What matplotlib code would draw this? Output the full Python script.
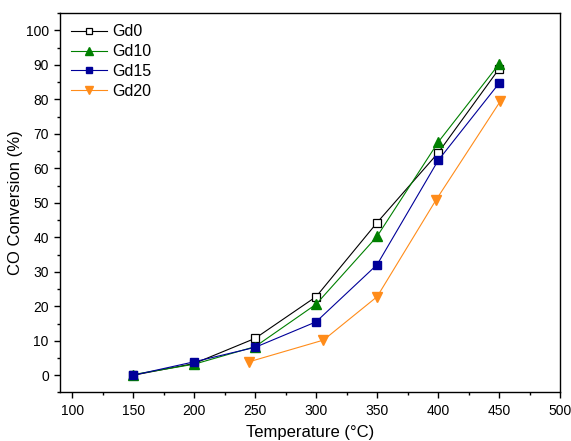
import matplotlib
matplotlib.use('Agg')
import matplotlib.pyplot as plt
from matplotlib.ticker import MultipleLocator

plt.rcParams['font.family'] = ['Liberation Sans', 'DejaVu Sans']

temps = [150, 200, 250, 300, 350, 400, 450]
gd0 = [0.0, 3.4, 10.7, 22.8, 44.3, 64.5, 88.9]
gd10 = [0.2, 3.2, 8.3, 20.6, 40.3, 67.6, 90.3]
gd15 = [0.0, 3.9, 8.1, 15.5, 32.1, 62.3, 84.7]
temps_gd20 = [245, 306, 350, 398, 451]
gd20 = [3.9, 10.2, 22.8, 50.7, 79.5]

fig = plt.figure(figsize=(5.71, 4.41), dpi=100)
ax = fig.add_axes([0.105, 0.11, 0.876, 0.86])

ax.plot(temps, gd0, color='black', lw=0.8, marker='s', ms=5.5,
        mfc='white', mec='black', mew=0.9, label='Gd0')
ax.plot(temps, gd10, color='green', lw=0.8, marker='^', ms=7,
        mfc='green', mec='green', label='Gd10')
ax.plot(temps, gd15, color='#000099', lw=0.8, marker='s', ms=5.5,
        mfc='#000099', mec='#000099', label='Gd15')
ax.plot(temps_gd20, gd20, color='#ff8c1a', lw=0.8, marker='v', ms=7,
        mfc='#ff8c1a', mec='#ff8c1a', label='Gd20')

ax.set_xlim(90, 500)
ax.set_ylim(-5, 105)
ax.xaxis.set_major_locator(MultipleLocator(50))
ax.xaxis.set_minor_locator(MultipleLocator(25))
ax.yaxis.set_major_locator(MultipleLocator(10))
ax.yaxis.set_minor_locator(MultipleLocator(5))
ax.set_xticks(range(100, 501, 50))
ax.tick_params(which='both', direction='out', top=False, right=False, labelsize=10)
ax.tick_params(which='major', length=4, width=1, pad=4)
ax.tick_params(which='minor', length=2.5, width=1)
for s in ax.spines.values():
    s.set_linewidth(1)

ax.set_xlabel('Temperature (°C)', fontsize=12, labelpad=5)
ax.set_ylabel('CO Conversion (%)', fontsize=12, labelpad=2)

ax.legend(loc='upper left', frameon=False, fontsize=11.5, handlelength=2.25,
          handletextpad=0.3, labelspacing=0.3, borderaxespad=0.3,
          markerscale=0.8)

fig.savefig('out.png', dpi=100)
